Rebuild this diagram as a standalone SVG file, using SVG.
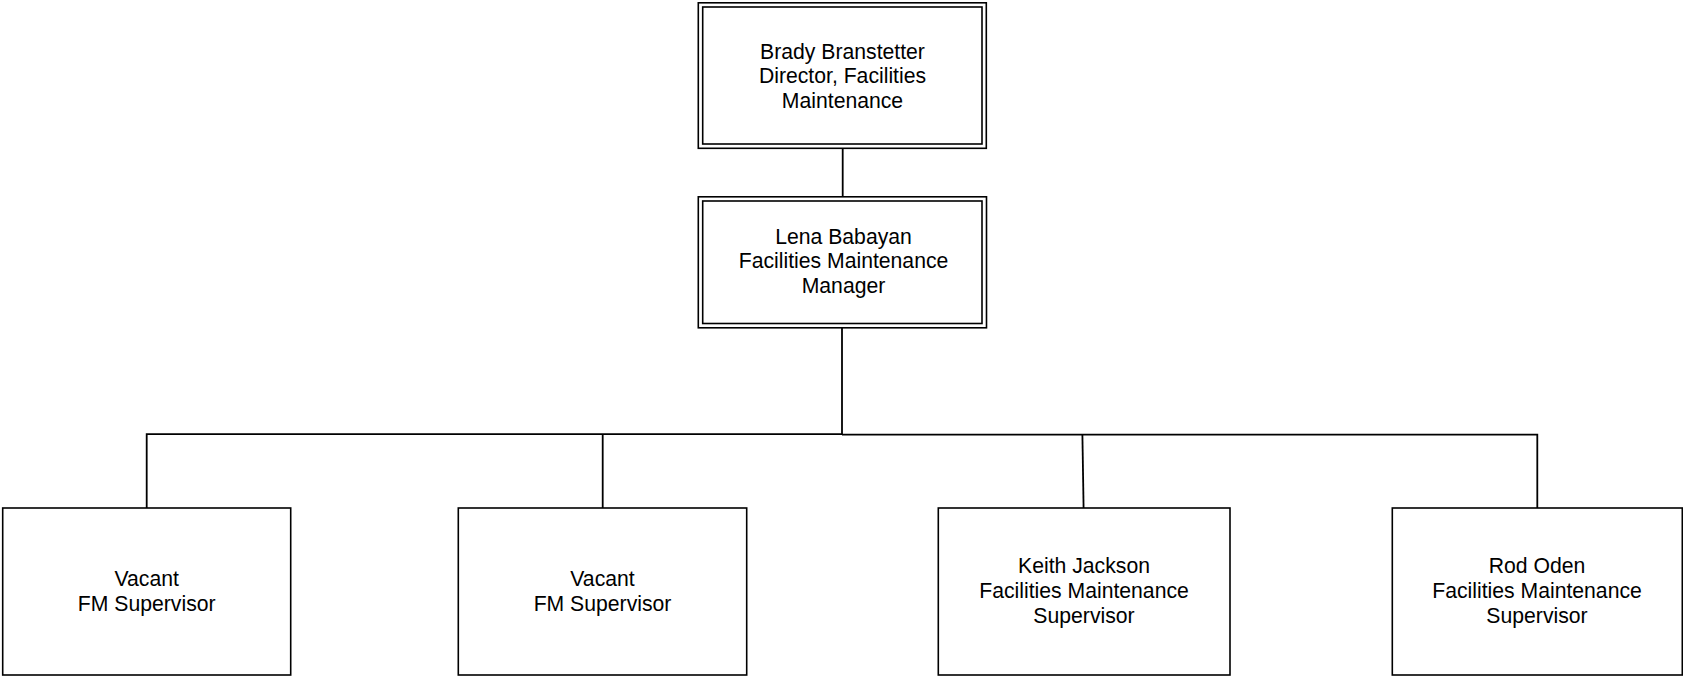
<svg xmlns="http://www.w3.org/2000/svg" width="1683" height="676" viewBox="0 0 1683 676">
<style>
.box{fill:#fff;stroke:#000;stroke-width:1.6}
.in{fill:none;stroke:#000;stroke-width:1.6}
.ln{fill:none;stroke:#000;stroke-width:1.8}
text{font-family:"Liberation Sans",Arial,sans-serif;font-size:21.2px;fill:#000;text-anchor:middle}
</style>
<rect width="1683" height="676" fill="#fff"/>
<g id="connectors">
<path class="ln" d="M842.7 148V197"/>
<path class="ln" d="M842 328V434.5"/>
<path class="ln" d="M146.7 508V434.2H842M842 434.6H1537.3V508"/>
<path class="ln" d="M602.7 434.3V508"/>
<path class="ln" d="M1082.4 434.6L1083.6 508"/>
</g>
<g id="n-brady">
<rect class="box" x="698.3" y="2.8" width="288" height="145.5"/>
<rect class="in" x="702.7" y="7" width="279.3" height="137"/>
<text x="842.5" y="58.5">Brady Branstetter</text>
<text x="842.5" y="83">Director, Facilities</text>
<text x="842.5" y="107.5">Maintenance</text>
</g>
<g id="n-lena">
<rect class="box" x="698.3" y="196.8" width="288.2" height="131"/>
<rect class="in" x="702.7" y="201" width="279.3" height="122.5"/>
<text x="843.5" y="243.5">Lena Babayan</text>
<text x="843.5" y="268">Facilities Maintenance</text>
<text x="843.5" y="292.5">Manager</text>
</g>
<g id="n-vacant1">
<rect class="box" x="2.7" y="508" width="288" height="167"/>
<text x="146.7" y="586">Vacant</text>
<text x="146.7" y="611">FM Supervisor</text>
</g>
<g id="n-vacant2">
<rect class="box" x="458.3" y="508" width="288.4" height="167"/>
<text x="602.5" y="586">Vacant</text>
<text x="602.5" y="611">FM Supervisor</text>
</g>
<g id="n-keith">
<rect class="box" x="938.3" y="508" width="291.7" height="167"/>
<text x="1084" y="573">Keith Jackson</text>
<text x="1084" y="598">Facilities Maintenance</text>
<text x="1084" y="622.5">Supervisor</text>
</g>
<g id="n-rod">
<rect class="box" x="1392.3" y="508" width="290" height="167"/>
<text x="1537" y="573">Rod Oden</text>
<text x="1537" y="598">Facilities Maintenance</text>
<text x="1537" y="622.5">Supervisor</text>
</g>
</svg>
